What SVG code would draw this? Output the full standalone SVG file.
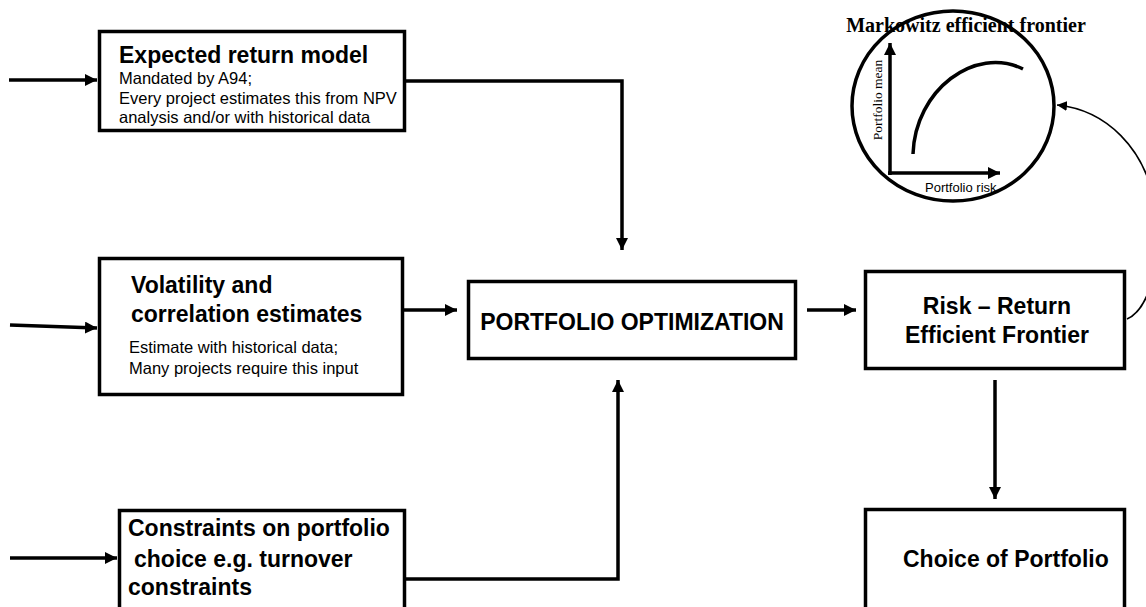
<svg xmlns="http://www.w3.org/2000/svg" width="1146" height="607" viewBox="0 0 1146 607">
<style>
  .box { fill: #fff; stroke: #000; stroke-width: 3.5; }
  .title { font-family: "Liberation Sans", Arial, sans-serif; font-weight: bold; font-size: 23px; fill: #000; }
  .sub { font-family: "Liberation Sans", Arial, sans-serif; font-size: 16.5px; fill: #000; }
  .conn { fill: none; stroke: #000; stroke-width: 3.5; }
  .thin { fill: none; stroke: #000; stroke-width: 1.6; }
</style>
<defs>
  <marker id="ah" markerUnits="userSpaceOnUse" markerWidth="14" markerHeight="12" refX="12" refY="6" orient="auto">
    <path d="M0,0 L12,6 L0,12 Z" fill="#000"/>
  </marker>
  <marker id="ahs" markerUnits="userSpaceOnUse" markerWidth="11" markerHeight="10" refX="10" refY="5" orient="auto">
    <path d="M0,0 L10,5 L0,10 Z" fill="#000"/>
  </marker>
</defs>

<g id="connectors">
  <path class="conn" d="M9,80 L97,80" marker-end="url(#ah)"/>
  <path class="conn" d="M10,325 L97,328" marker-end="url(#ah)"/>
  <path class="conn" d="M10,558 L117,558" marker-end="url(#ah)"/>
  <path class="conn" d="M406,81 H622 V250" marker-end="url(#ah)"/>
  <path class="conn" d="M388,310 H457" marker-end="url(#ah)"/>
  <path class="conn" d="M405,579 H618 V380" marker-end="url(#ah)"/>
  <path class="conn" d="M807,310 H856" marker-end="url(#ah)"/>
  <path class="conn" d="M995,380 V499" marker-end="url(#ah)"/>
  <path class="thin" d="M1127,319 C1152,308 1164,250 1154,200 C1144,150 1108,110 1057,105" marker-end="url(#ahs)"/>
</g>

<g id="node-expected">
  <rect class="box" x="99.5" y="31.5" width="305" height="99"/>
  <text class="title" x="119" y="63">Expected return model</text>
  <text class="sub" x="119" y="84">Mandated by A94;</text>
  <text class="sub" x="119" y="104">Every project estimates this from NPV</text>
  <text class="sub" x="119" y="123">analysis and/or with historical data</text>
</g>

<g id="node-volatility">
  <rect class="box" x="99.5" y="258.5" width="303" height="136"/>
  <text class="title" x="131" y="293">Volatility and</text>
  <text class="title" x="131" y="322">correlation estimates</text>
  <text class="sub" x="129" y="353">Estimate with historical data;</text>
  <text class="sub" x="129" y="374">Many projects require this input</text>
</g>

<g id="node-constraints">
  <rect class="box" x="119.5" y="510.5" width="285" height="110"/>
  <text class="title" x="128" y="536">Constraints on portfolio</text>
  <text class="title" x="134" y="567">choice e.g. turnover</text>
  <text class="title" x="128" y="595">constraints</text>
</g>

<g id="node-optimization">
  <rect class="box" x="468.5" y="281.5" width="327" height="77"/>
  <text class="title" x="632" y="330" text-anchor="middle">PORTFOLIO OPTIMIZATION</text>
</g>

<g id="node-frontier">
  <rect class="box" x="865.5" y="271.5" width="259" height="97"/>
  <text class="title" x="997" y="314" text-anchor="middle">Risk – Return</text>
  <text class="title" x="997" y="343" text-anchor="middle">Efficient Frontier</text>
</g>

<g id="node-choice">
  <rect class="box" x="865.5" y="509.5" width="259" height="110"/>
  <text class="title" x="903" y="567">Choice of Portfolio</text>
</g>

<g id="node-markowitz">
  <text x="966" y="32" text-anchor="middle" font-family="'Liberation Serif', 'Times New Roman', serif" font-weight="bold" font-size="20">Markowitz efficient frontier</text>
  <ellipse cx="953" cy="106" rx="101" ry="95" fill="none" stroke="#000" stroke-width="3.5"/>
  <path d="M913,154 C915,90 975,45 1023,69" fill="none" stroke="#000" stroke-width="3.5"/>
  <path class="conn" d="M890,175 V43" marker-end="url(#ah)" stroke-width="4"/>
  <path class="conn" d="M888,173 H1000" marker-end="url(#ah)" stroke-width="4"/>
  <text x="882" y="100" text-anchor="middle" transform="rotate(-90 882 100)" font-family="'Liberation Serif', 'Times New Roman', serif" font-size="13.5">Portfolio mean</text>
  <text x="925" y="192" font-family="'Liberation Sans', Arial, sans-serif" font-size="13">Portfolio risk</text>
</g>
</svg>
